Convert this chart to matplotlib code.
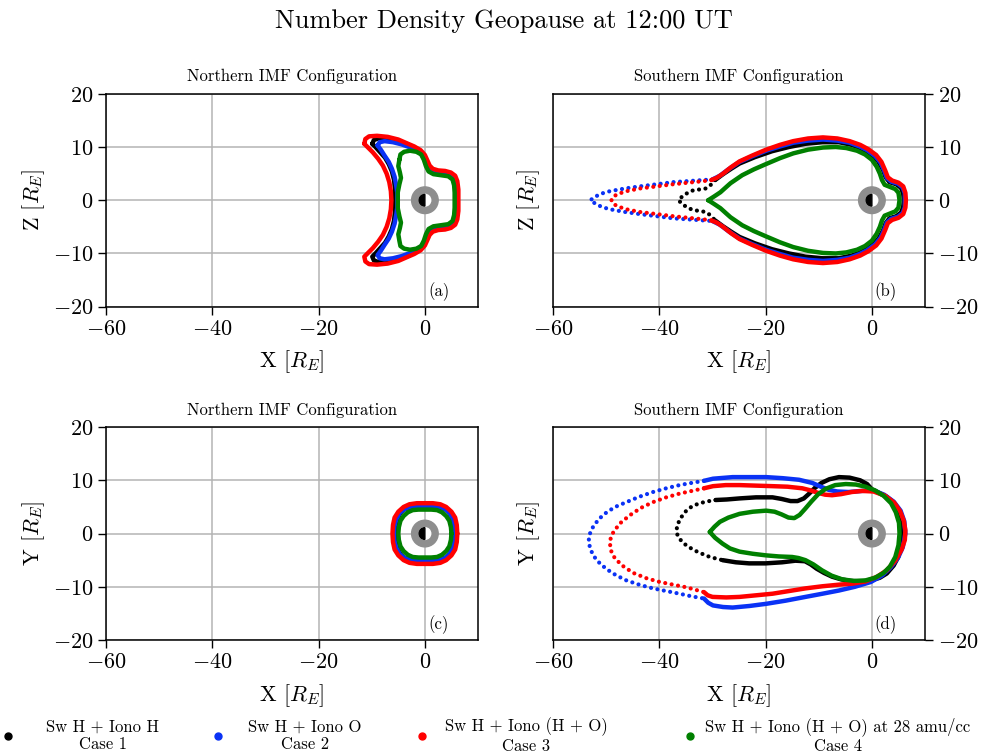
import numpy as np
import matplotlib
matplotlib.use("Agg")
import matplotlib.pyplot as plt
from matplotlib.patches import Circle, Wedge
from matplotlib.lines import Line2D

plt.rcParams.update({
    "font.family": ["cmr10", "DejaVu Serif"],
    "mathtext.fontset": "cm",
    "axes.formatter.use_mathtext": True,
    "axes.unicode_minus": True,
})

CASE_COLORS = ["black", "#0a32f5", "red", "green"]
CASE_LABELS = [
    "Sw H + Iono H\nCase 1",
    "Sw H + Iono O\nCase 2",
    "Sw H + Iono (H + O)\nCase 3",
    "Sw H + Iono (H + O) at 28 amu/cc\nCase 4",
]
PANEL_TITLES = ["Northern IMF Configuration", "Southern IMF Configuration",
                "Northern IMF Configuration", "Southern IMF Configuration"]
PANEL_TAGS = ["(a)", "(b)", "(c)", "(d)"]
Y_LABELS = [r"Z $[R_E]$", r"Z $[R_E]$", r"Y $[R_E]$", r"Y $[R_E]$"]
X_TICKS = [-60, -40, -20, 0]
Y_TICKS = [-20, -10, 0, 10, 20]

# ---- (a) X-Z plane, northern IMF (closed contours) ----
A_BLACK = [(-9.9, 10.6), (-9.6, 11.3), (-8.8, 11.6), (-7.2, 11.5), (-5.6, 11.2), (-4.0, 10.8),
           (-2.6, 10.2), (-1.4, 9.6), (-0.5, 8.9), (0.1, 7.8), (0.5, 6.7), (1.0, 5.9),
           (2.0, 5.2), (3.4, 5.0), (4.6, 4.8), (5.4, 4.2), (5.8, 3.2), (5.9, 1.6), (5.9, 0.0),
           (5.9, -1.6), (5.8, -3.2), (5.4, -4.2), (4.6, -4.8), (3.4, -5.0), (2.0, -5.2),
           (1.0, -5.9), (0.5, -6.7), (0.1, -7.8), (-0.5, -8.9), (-1.4, -9.6), (-2.6, -10.2),
           (-4.0, -10.8), (-5.6, -11.2), (-7.2, -11.5), (-8.8, -11.6), (-9.6, -11.3),
           (-9.9, -10.6), (-9.3, -10.0), (-8.4, -9.0), (-7.5, -8.0), (-6.8, -6.8), (-6.2, -5.4),
           (-5.8, -3.8), (-5.6, -1.9), (-5.6, 0.0), (-5.6, 1.9), (-5.8, 3.8), (-6.2, 5.4),
           (-6.8, 6.8), (-7.5, 8.0), (-8.4, 9.0), (-9.3, 10.0)]
A_BLUE = [(-8.9, 10.3), (-8.5, 10.9), (-7.6, 11.1), (-6.0, 10.9), (-4.4, 10.5), (-3.0, 10.0),
          (-1.8, 9.5), (-0.8, 8.8), (-0.1, 7.8), (0.4, 6.6), (0.9, 5.8), (2.0, 5.1), (3.4, 4.9),
          (4.6, 4.7), (5.3, 4.1), (5.7, 3.1), (5.8, 1.6), (5.8, 0.0), (5.8, -1.6), (5.7, -3.1),
          (5.3, -4.1), (4.6, -4.7), (3.4, -4.9), (2.0, -5.1), (0.9, -5.8), (0.4, -6.6),
          (-0.1, -7.8), (-0.8, -8.8), (-1.8, -9.5), (-3.0, -10.0), (-4.4, -10.5), (-6.0, -10.9),
          (-7.6, -11.1), (-8.5, -10.9), (-8.9, -10.3), (-8.3, -9.5), (-7.6, -8.4), (-6.8, -7.2),
          (-6.2, -5.9), (-5.7, -4.4), (-5.4, -2.8), (-5.2, -1.4), (-5.2, 0.0), (-5.2, 1.4),
          (-5.4, 2.8), (-5.7, 4.4), (-6.2, 5.9), (-6.8, 7.2), (-7.6, 8.4), (-8.3, 9.5)]
A_RED = [(-11.4, 10.6), (-11.2, 11.5), (-10.5, 12.0), (-9.0, 12.1), (-7.0, 11.9), (-5.0, 11.4),
         (-3.4, 10.7), (-2.0, 10.1), (-0.8, 9.4), (0.0, 8.5), (0.5, 7.4), (0.9, 6.5), (1.5, 5.9),
         (2.5, 5.6), (3.8, 5.5), (4.9, 5.2), (5.7, 4.6), (6.1, 3.6), (6.3, 2.0), (6.3, 0.0),
         (6.3, -2.0), (6.1, -3.6), (5.7, -4.6), (4.9, -5.2), (3.8, -5.5), (2.5, -5.6),
         (1.5, -5.9), (0.9, -6.5), (0.5, -7.4), (0.0, -8.5), (-0.8, -9.4), (-2.0, -10.1),
         (-3.4, -10.7), (-5.0, -11.4), (-7.0, -11.9), (-9.0, -12.1), (-10.5, -12.0),
         (-11.2, -11.5), (-11.4, -10.6), (-10.8, -10.0), (-9.8, -9.0), (-8.8, -7.8),
         (-7.9, -6.5), (-7.2, -5.0), (-6.7, -3.4), (-6.4, -1.7), (-6.3, 0.0), (-6.4, 1.7),
         (-6.7, 3.4), (-7.2, 5.0), (-7.9, 6.5), (-8.8, 7.8), (-9.8, 9.0), (-10.8, 10.0)]
A_GREEN = [(-4.8, 7.6), (-4.6, 8.6), (-3.9, 9.1), (-2.8, 9.3), (-1.6, 9.1), (-0.7, 8.6),
           (-0.2, 7.6), (0.2, 6.4), (0.7, 5.4), (1.6, 4.9), (3.0, 4.7), (4.4, 4.5), (5.2, 3.9),
           (5.5, 2.8), (5.6, 1.4), (5.6, 0.0), (5.6, -1.4), (5.5, -2.8), (5.2, -3.9),
           (4.4, -4.5), (3.0, -4.7), (1.6, -4.9), (0.7, -5.4), (0.2, -6.4), (-0.2, -7.6),
           (-0.7, -8.6), (-1.6, -9.1), (-2.8, -9.3), (-3.9, -9.1), (-4.6, -8.6), (-4.8, -7.6),
           (-5.0, -6.4), (-4.7, -5.2), (-4.5, -4.2), (-4.8, -3.0), (-5.1, -1.5), (-5.1, 0.0),
           (-5.1, 1.5), (-4.8, 3.0), (-4.5, 4.2), (-4.7, 5.2), (-5.0, 6.4)]

# ---- (b) X-Z plane, southern IMF (dense body + sparse tail) ----
B_BLACK_BODY = [(-29.5, 3.8), (-28.0, 4.9), (-26.5, 5.9), (-24.9, 6.9), (-22.0, 8.1),
                (-18.8, 9.2), (-15.6, 10.0), (-12.5, 10.6), (-9.3, 10.9), (-6.2, 10.9),
                (-3.8, 10.4), (-1.9, 9.7), (-0.2, 8.6), (1.2, 7.3), (2.1, 5.7), (2.6, 4.3),
                (3.3, 3.4), (4.6, 3.0), (5.5, 2.3), (5.9, 1.2), (6.0, 0.0), (5.9, -1.2),
                (5.5, -2.3), (4.6, -3.0), (3.3, -3.4), (2.6, -4.3), (2.1, -5.7), (1.2, -7.3),
                (-0.2, -8.6), (-1.9, -9.7), (-3.8, -10.4), (-6.2, -10.9), (-9.3, -10.9),
                (-12.5, -10.6), (-15.6, -10.0), (-18.8, -9.2), (-22.0, -8.1), (-24.9, -6.9),
                (-26.5, -5.9), (-28.0, -4.9), (-29.5, -3.8)]
B_BLACK_TAIL = [(-29.5, 3.8), (-30.4, 2.8), (-31.3, 2.2), (-32.6, 2.0), (-33.8, 1.8),
                (-34.8, 1.3), (-35.6, 0.8), (-36.4, 0.0), (-35.6, -0.8), (-34.8, -1.3),
                (-33.8, -1.8), (-32.6, -2.0), (-31.3, -2.2), (-30.4, -2.8), (-29.5, -3.8)]
B_BLUE_BODY = [(-30.0, 3.9), (-28.6, 4.6), (-27.0, 5.8), (-24.9, 7.2), (-22.4, 8.3),
               (-19.9, 9.3), (-17.3, 10.1), (-14.8, 10.8), (-12.0, 11.2), (-9.2, 11.4),
               (-6.5, 11.2), (-4.2, 10.8), (-2.3, 10.1), (-0.9, 9.4), (0.6, 8.3), (1.6, 7.1),
               (2.3, 5.6), (2.8, 4.2), (3.6, 3.5), (4.9, 3.1), (5.8, 2.4), (6.2, 1.3),
               (6.2, 0.0), (6.2, -1.3), (5.8, -2.4), (4.9, -3.1), (3.6, -3.5), (2.8, -4.2),
               (2.3, -5.6), (1.6, -7.1), (0.6, -8.3), (-0.9, -9.4), (-2.3, -10.1), (-4.2, -10.8),
               (-6.5, -11.2), (-9.2, -11.4), (-12.0, -11.2), (-14.8, -10.8), (-17.3, -10.1),
               (-19.9, -9.3), (-22.4, -8.3), (-24.9, -7.2), (-27.0, -5.8), (-28.6, -4.6),
               (-30.0, -3.9)]
B_BLUE_TAIL = [(-30.0, 3.9), (-31.6, 3.8), (-34.5, 3.6), (-37.4, 3.4), (-40.5, 3.0),
               (-43.7, 2.6), (-46.5, 2.2), (-49.3, 1.7), (-50.7, 1.3), (-51.8, 0.8),
               (-53.0, 0.0), (-51.8, -0.8), (-50.7, -1.3), (-49.3, -1.7), (-46.5, -2.2),
               (-43.7, -2.6), (-40.5, -3.0), (-37.4, -3.4), (-34.5, -3.6), (-31.6, -3.8),
               (-30.0, -3.9)]
B_RED_BODY = [(-30.2, 3.8), (-29.2, 4.2), (-28.0, 5.0), (-26.5, 6.2), (-24.9, 7.3),
              (-22.5, 8.4), (-19.9, 9.5), (-17.3, 10.4), (-14.8, 11.1), (-12.0, 11.6),
              (-9.2, 11.8), (-6.5, 11.6), (-4.2, 11.1), (-2.2, 10.4), (-0.7, 9.6), (0.8, 8.5),
              (1.8, 7.2), (2.5, 5.6), (3.0, 4.3), (3.8, 3.7), (5.0, 3.3), (5.9, 2.6),
              (6.3, 1.4), (6.4, 0.0), (6.3, -1.4), (5.9, -2.6), (5.0, -3.3), (3.8, -3.7),
              (3.0, -4.3), (2.5, -5.6), (1.8, -7.2), (0.8, -8.5), (-0.7, -9.6), (-2.2, -10.4),
              (-4.2, -11.1), (-6.5, -11.6), (-9.2, -11.8), (-12.0, -11.6), (-14.8, -11.1),
              (-17.3, -10.4), (-19.9, -9.5), (-22.5, -8.4), (-24.9, -7.3), (-26.5, -6.2),
              (-28.0, -5.0), (-29.2, -4.2), (-30.2, -3.8)]
B_RED_TAIL = [(-30.2, 3.8), (-31.6, 3.6), (-34.5, 3.3), (-37.4, 3.0), (-40.5, 2.6),
              (-43.7, 2.2), (-46.2, 1.7), (-48.0, 1.1), (-48.8, 0.5), (-49.0, 0.0),
              (-48.8, -0.5), (-48.0, -1.1), (-46.2, -1.7), (-43.7, -2.2), (-40.5, -2.6),
              (-37.4, -3.0), (-34.5, -3.3), (-31.6, -3.6), (-30.2, -3.8)]
B_GREEN = [(-30.8, 0.0), (-29.7, 0.7), (-28.5, 1.5), (-27.5, 2.4), (-26.6, 3.2), (-24.4, 4.7),
           (-22.2, 5.8), (-19.9, 6.8), (-17.3, 7.9), (-14.8, 8.8), (-12.0, 9.5), (-9.2, 9.9),
           (-6.8, 10.0), (-4.8, 9.8), (-2.8, 9.3), (-1.3, 8.6), (0.0, 7.6), (0.9, 6.3),
           (1.5, 5.0), (1.9, 3.8), (2.4, 2.9), (3.4, 2.5), (4.4, 2.1), (5.0, 1.4), (5.2, 0.0),
           (5.0, -1.4), (4.4, -2.1), (3.4, -2.5), (2.4, -2.9), (1.9, -3.8), (1.5, -5.0),
           (0.9, -6.3), (0.0, -7.6), (-1.3, -8.6), (-2.8, -9.3), (-4.8, -9.8), (-6.8, -10.0),
           (-9.2, -9.9), (-12.0, -9.5), (-14.8, -8.8), (-17.3, -7.9), (-19.9, -6.8),
           (-22.2, -5.8), (-24.4, -4.7), (-26.6, -3.2), (-27.5, -2.4), (-28.5, -1.5),
           (-29.7, -0.7)]

# ---- (c) X-Y plane, northern IMF ----
C_BLACK = [(5.6, 0.0), (5.5, 1.5), (5.2, 2.8), (4.6, 3.9), (3.8, 4.6), (2.7, 5.0), (1.4, 5.2),
           (0.0, 5.2), (-1.4, 5.2), (-2.7, 5.0), (-3.8, 4.6), (-4.6, 3.9), (-5.2, 2.8),
           (-5.5, 1.5), (-5.6, 0.0), (-5.5, -1.5), (-5.2, -2.8), (-4.6, -3.9), (-3.8, -4.6),
           (-2.7, -5.0), (-1.4, -5.2), (0.0, -5.2), (1.4, -5.2), (2.7, -5.0), (3.8, -4.6),
           (4.6, -3.9), (5.2, -2.8), (5.5, -1.5)]
C_BLUE = [(5.6, 0.0), (5.5, 1.5), (5.2, 2.8), (4.6, 3.9), (3.8, 4.6), (2.7, 5.0), (1.4, 5.2),
          (0.0, 5.2), (-1.4, 5.2), (-2.7, 5.0), (-3.8, 4.6), (-4.7, 3.9), (-5.3, 2.8),
          (-5.7, 1.5), (-5.8, 0.0), (-5.7, -1.5), (-5.3, -2.8), (-4.7, -3.9), (-3.8, -4.6),
          (-2.7, -5.0), (-1.4, -5.2), (0.0, -5.2), (1.4, -5.2), (2.7, -5.0), (3.8, -4.6),
          (4.6, -3.9), (5.2, -2.8), (5.5, -1.5)]
C_RED = [(6.1, 0.0), (6.0, 1.6), (5.7, 3.0), (5.0, 4.1), (4.0, 5.0), (2.9, 5.5), (1.5, 5.7),
         (0.0, 5.7), (-1.5, 5.7), (-2.9, 5.5), (-4.0, 5.0), (-5.0, 4.1), (-5.7, 3.0),
         (-6.0, 1.6), (-6.1, 0.0), (-6.0, -1.6), (-5.7, -3.0), (-5.0, -4.1), (-4.0, -5.0),
         (-2.9, -5.5), (-1.5, -5.7), (0.0, -5.7), (1.5, -5.7), (2.9, -5.5), (4.0, -5.0),
         (5.0, -4.1), (5.7, -3.0), (6.0, -1.6)]
C_GREEN = [(5.0, 0.0), (4.9, 1.2), (4.6, 2.4), (4.0, 3.3), (3.2, 4.0), (2.3, 4.4), (1.2, 4.5),
           (0.0, 4.5), (-1.2, 4.5), (-2.3, 4.4), (-3.2, 4.0), (-4.0, 3.3), (-4.6, 2.4),
           (-4.9, 1.2), (-5.0, 0.0), (-4.9, -1.2), (-4.6, -2.4), (-4.0, -3.3), (-3.2, -4.0),
           (-2.3, -4.4), (-1.2, -4.5), (0.0, -4.5), (1.2, -4.5), (2.3, -4.4), (3.2, -4.0),
           (4.0, -3.3), (4.6, -2.4), (4.9, -1.2)]

# ---- (d) X-Y plane, southern IMF ----
D_BLACK_BODY = [(-28.1, -5.0), (-25.6, -5.4), (-23.1, -5.6), (-20.0, -5.6), (-16.9, -5.4),
                (-14.4, -5.1), (-12.6, -5.2), (-11.5, -5.8), (-10.4, -6.6), (-9.0, -7.4),
                (-7.5, -8.1), (-5.8, -8.6), (-4.0, -8.9), (-2.0, -9.0), (-0.2, -8.8),
                (1.5, -8.3), (2.8, -7.5), (4.1, -6.0), (5.0, -4.3), (5.5, -2.2), (5.6, 0.0),
                (5.4, 2.2), (5.0, 4.3), (4.1, 5.8), (2.8, 6.9), (1.2, 7.7), (0.0, 8.3),
                (-0.9, 9.3), (-2.2, 10.0), (-4.2, 10.5), (-6.2, 10.6), (-8.0, 10.2),
                (-9.5, 9.5), (-10.7, 8.6), (-11.8, 7.5), (-12.8, 6.6), (-14.0, 6.1),
                (-15.3, 6.1), (-17.0, 6.5), (-18.7, 6.8), (-21.8, 6.8), (-24.9, 6.6),
                (-27.3, 6.4), (-29.4, 6.3)]
D_BLACK_TAIL = [(-29.4, 6.3), (-31.2, 6.0), (-32.7, 5.6), (-34.0, 5.0), (-35.0, 4.2),
                (-36.0, 2.9), (-36.7, 1.4), (-36.7, 0.0), (-36.2, -1.0), (-35.2, -2.0),
                (-34.0, -2.8), (-32.7, -3.5), (-30.5, -4.4), (-28.1, -5.0)]
D_BLUE_BODY = [(-31.6, -12.2), (-30.8, -13.0), (-29.9, -13.5), (-28.0, -13.8), (-26.2, -13.9),
               (-23.0, -13.6), (-19.9, -13.2), (-16.2, -12.6), (-12.5, -11.9), (-9.3, -11.3),
               (-6.2, -10.7), (-3.2, -10.0), (-0.2, -9.1), (1.9, -7.9), (3.5, -6.4),
               (4.9, -4.6), (5.8, -2.6), (6.3, 0.0), (6.1, 2.3), (5.4, 4.3), (4.1, 6.0),
               (2.3, 7.3), (0.3, 8.1), (-2.0, 8.0), (-4.4, 7.8), (-6.5, 7.9), (-8.1, 8.2),
               (-9.6, 8.8), (-11.2, 9.5), (-13.7, 10.1), (-16.8, 10.4), (-19.9, 10.6),
               (-23.0, 10.6), (-26.2, 10.6), (-29.9, 10.3), (-31.6, 9.9)]
D_BLUE_TAIL = [(-31.6, 9.9), (-34.0, 9.5), (-36.2, 9.1), (-38.7, 8.5), (-41.2, 7.8),
               (-43.8, 6.9), (-46.2, 5.9), (-48.3, 5.0), (-49.9, 4.0), (-51.3, 2.8),
               (-52.4, 1.4), (-53.1, -0.1), (-53.3, -1.4), (-53.0, -2.9), (-52.3, -4.3),
               (-51.2, -5.6), (-49.9, -6.7), (-48.2, -7.8), (-46.2, -8.8), (-43.8, -9.6),
               (-41.2, -10.3), (-38.7, -10.8), (-36.2, -11.3), (-33.9, -11.8), (-31.6, -12.2)]
D_RED_BODY = [(-31.6, -11.0), (-30.9, -11.6), (-30.0, -11.9), (-27.4, -12.0), (-24.9, -11.9),
              (-21.8, -11.6), (-18.7, -11.3), (-15.6, -10.8), (-12.5, -10.3), (-9.3, -9.9),
              (-6.2, -9.6), (-3.6, -9.4), (-1.2, -9.0), (1.0, -8.1), (2.8, -6.9), (4.4, -5.1),
              (5.6, -3.0), (6.2, -1.2), (6.3, 0.6), (6.0, 2.4), (5.3, 4.2), (4.2, 5.8),
              (2.5, 7.1), (0.3, 7.9), (-1.8, 8.0), (-3.8, 7.8), (-5.8, 7.4), (-7.5, 7.2),
              (-8.8, 7.3), (-10.0, 7.6), (-11.5, 8.1), (-13.1, 8.5), (-15.9, 8.8),
              (-18.7, 8.9), (-21.8, 9.0), (-24.9, 9.1), (-27.5, 9.1), (-29.9, 8.9),
              (-31.6, 8.5)]
D_RED_TAIL = [(-31.6, 8.5), (-33.9, 8.0), (-36.2, 7.5), (-38.7, 6.8), (-41.2, 5.9),
              (-43.5, 4.8), (-45.6, 3.4), (-47.3, 2.0), (-48.6, 0.4), (-49.3, -1.3),
              (-49.2, -3.0), (-48.4, -4.6), (-47.0, -6.0), (-44.9, -7.4), (-42.4, -8.4),
              (-39.9, -9.1), (-37.4, -9.6), (-34.9, -10.1), (-31.6, -11.0)]
D_GREEN = [(-30.5, 0.3), (-29.6, 1.3), (-28.6, 2.2), (-27.0, 3.0), (-24.9, 3.7), (-22.4, 4.1),
           (-19.9, 4.3), (-18.3, 4.1), (-17.0, 3.6), (-15.7, 3.0), (-14.6, 2.9), (-13.6, 3.5),
           (-12.6, 4.6), (-11.4, 6.0), (-10.1, 7.4), (-8.7, 8.4), (-6.9, 9.1), (-4.9, 9.3),
           (-3.0, 9.2), (-1.2, 8.8), (0.6, 8.1), (2.2, 7.1), (3.6, 5.7), (4.5, 4.0), (5.1, 2.0),
           (5.2, 0.0), (5.0, -2.2), (4.4, -4.4), (3.4, -6.2), (2.2, -7.4), (0.6, -8.3),
           (-1.2, -8.8), (-3.4, -8.9), (-5.6, -8.6), (-7.6, -7.9), (-9.4, -6.9), (-11.0, -5.8),
           (-12.5, -5.0), (-13.8, -4.6), (-15.0, -4.4), (-17.5, -4.3), (-19.9, -4.1),
           (-22.4, -3.8), (-24.9, -3.4), (-26.7, -2.8), (-28.1, -1.9), (-29.5, -0.8)]

# per panel: solid curves and sparse dotted tails, one per case (None = no tail)
PANELS = [
    ([A_BLACK, A_BLUE, A_RED, A_GREEN], [None, None, None, None]),
    ([B_BLACK_BODY, B_BLUE_BODY, B_RED_BODY, B_GREEN], [B_BLACK_TAIL, B_BLUE_TAIL, B_RED_TAIL, None]),
    ([C_BLACK, C_BLUE, C_RED, C_GREEN], [None, None, None, None]),
    ([D_BLACK_BODY, D_BLUE_BODY, D_RED_BODY, D_GREEN], [D_BLACK_TAIL, D_BLUE_TAIL, D_RED_TAIL, None]),
]

AX_RECTS = [
    [0.1053, 0.5943, 0.3694, 0.2817],
    [0.5492, 0.5943, 0.3694, 0.2817],
    [0.1053, 0.1534, 0.3694, 0.2817],
    [0.5492, 0.1534, 0.3694, 0.2817],
]
# legend entry placement (pixels) and marker-text gap, tuned to the reference
LEG_MARKER_PX = [8, 218, 422, 690]
LEG_TEXT_PAD = [2.0, 1.5, 1.08, 0.6]

LW = 3.2


def draw_solid(ax, pts, color, closed, z):
    arr = np.array(pts)
    if closed:
        arr = np.vstack([arr, arr[:1]])
    ax.plot(arr[:, 0], arr[:, 1], color=color, lw=LW, solid_capstyle="round",
            solid_joinstyle="round", zorder=z)


def draw_dotted(ax, pts, color, z):
    arr = np.array(pts)
    ax.plot(arr[:, 0], arr[:, 1], color=color, lw=3.0, linestyle=(0, (0.01, 1.55)),
            dash_capstyle="round", zorder=z)


def draw_earth(ax):
    ax.add_patch(Circle((0, 0), 2.5, color="#8e8e8e", zorder=10))
    ax.add_patch(Circle((0, 0), 1.1, color="white", zorder=11))
    ax.add_patch(Wedge((0, 0), 1.1, 90, 270, color="black", zorder=12))


fig = plt.figure(figsize=(10.07, 7.56), dpi=100)
fig.text(0.5, 0.972, "Number Density Geopause at 12:00 UT", ha="center", va="center",
         fontsize=19)

for i, (bodies, tails) in enumerate(PANELS):
    ax = fig.add_axes(AX_RECTS[i])
    for k, color in enumerate(CASE_COLORS):
        draw_solid(ax, bodies[k], color, tails[k] is None, 3 + k)
        if tails[k] is not None:
            draw_dotted(ax, tails[k], color, 3 + k)
    draw_earth(ax)
    ax.set_xlim(-60, 10)
    ax.set_ylim(-20, 20)
    ax.set_xticks(X_TICKS)
    ax.set_yticks(Y_TICKS)
    ax.grid(True, color="#b4b4b4", lw=1.1, zorder=0)
    ax.set_axisbelow(True)
    ax.tick_params(labelsize=16, length=5.5, width=1.0, direction="out")
    for sp in ax.spines.values():
        sp.set_linewidth(1.1)
    ax.set_xlabel(r"X $[R_E]$", fontsize=16, labelpad=7)
    if i % 2 == 1:
        ax.yaxis.tick_right()
        ax.yaxis.set_label_position("left")
        ax.set_ylabel(Y_LABELS[i], fontsize=16, labelpad=8)
    else:
        ax.set_ylabel(Y_LABELS[i], fontsize=16, labelpad=4)
    ax.set_title(PANEL_TITLES[i], fontsize=12, pad=9)
    ax.text(0.895, 0.07, PANEL_TAGS[i], transform=ax.transAxes, ha="center",
            va="center", fontsize=12, zorder=20)

for k, color in enumerate(CASE_COLORS):
    handle = Line2D([], [], ls="none", marker="o", ms=5, color=color)
    left = (LEG_MARKER_PX[k] - 5) / 1007
    leg = fig.legend([handle], [CASE_LABELS[k]], loc="center left",
                     bbox_to_anchor=(left, 0.027), frameon=False, fontsize=12,
                     handlelength=0.6, handletextpad=LEG_TEXT_PAD[k], borderpad=0,
                     borderaxespad=0)
    for t in leg.get_texts():
        t.set_multialignment("center")

fig.savefig("out.png", dpi=100)
